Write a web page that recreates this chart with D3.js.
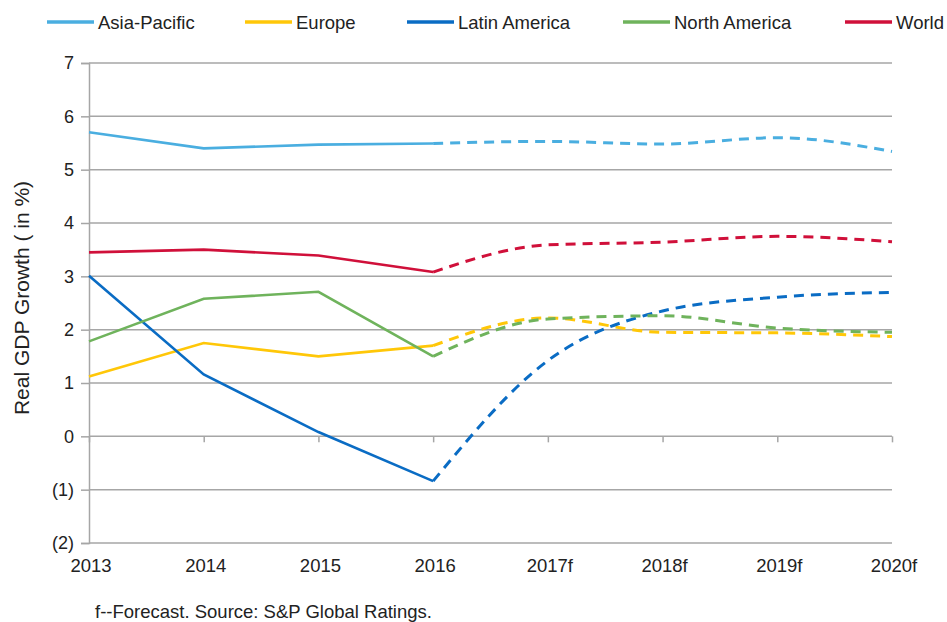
<!DOCTYPE html>
<html>
<head>
<meta charset="utf-8">
<script src="https://cdn.jsdelivr.net/npm/d3@7"></script>
<style>
  body { margin: 0; background: #fff; }
  svg text { font-family: "Liberation Sans", Arial, sans-serif; fill: #222; }
</style>
</head>
<body>
<svg id="chart"></svg>
<script>
const years = ['2013', '2014', '2015', '2016', '2017f', '2018f', '2019f', '2020f'];
const asiaPacific = [5.70, 5.40, 5.47, 5.49, 5.53, 5.48, 5.60, 5.34];
const europe = [1.12, 1.75, 1.50, 1.70, 2.22, 1.95, 1.94, 1.87];
const latinAmerica = [3.01, 1.16, 0.08, -0.84, 1.42, 2.35, 2.61, 2.70];
const northAmerica = [1.78, 2.58, 2.71, 1.50, 2.20, 2.26, 2.03, 1.95];
const world = [3.45, 3.50, 3.39, 3.08, 3.59, 3.64, 3.75, 3.65];
const yTicks = [-2, -1, 0, 1, 2, 3, 4, 5, 6, 7];
const lastActual = 3; // index of 2016, forecasts start after it

const series = [
    { name: 'Asia-Pacific', values: asiaPacific, color: '#4aaee0' },
    { name: 'Europe', values: europe, color: '#ffc708' },
    { name: 'Latin America', values: latinAmerica, color: '#0a6cc4' },
    { name: 'North America', values: northAmerica, color: '#6fb35c' },
    { name: 'World', values: world, color: '#d0103a' }
];

const W = 947, H = 622;
const m = { left: 89, right: 55, top: 63, bottom: 80 };
const font = '"Liberation Sans", Arial, sans-serif';

const svg = d3.select('#chart')
    .attr('width', W)
    .attr('height', H);

const x = d3.scalePoint()
    .domain(years)
    .range([m.left, W - m.right]);

const y = d3.scaleLinear()
    .domain([-2, 7])
    .range([H - m.bottom + 1, m.top]);

const fmt = v => v < 0 ? `(${-v})` : `${v}`;

// gridlines
svg.append('g')
    .selectAll('line')
    .data(yTicks)
    .join('line')
        .attr('x1', m.left)
        .attr('x2', W - m.right)
        .attr('y1', d => y(d))
        .attr('y2', d => y(d))
        .attr('stroke', '#a6a6a6')
        .attr('stroke-width', 1.5);

// y axis
const yAxis = d3.axisLeft(y)
    .tickValues(yTicks)
    .tickFormat(fmt)
    .tickSize(8)
    .tickPadding(7);

const gy = svg.append('g')
    .attr('transform', `translate(${m.left},0)`)
    .call(yAxis);
gy.select('.domain').attr('stroke', '#a6a6a6').attr('stroke-width', 1.5);
gy.selectAll('.tick line').attr('stroke', '#a6a6a6').attr('stroke-width', 1.5);
gy.selectAll('.tick text')
    .style('font-size', '18px')
    .style('font-family', font)
    .attr('fill', '#222');

// category axis crosses at zero, labels sit at the bottom
const gx = svg.append('g')
    .attr('transform', `translate(0,${y(0)})`)
    .call(d3.axisBottom(x).tickSize(6).tickFormat(''));
gx.select('.domain').remove();
gx.selectAll('.tick line').attr('stroke', '#a6a6a6').attr('stroke-width', 1.5);

svg.append('g')
    .selectAll('text')
    .data(years)
    .join('text')
        .attr('x', d => x(d) + 2)
        .attr('y', y(-2) + 29)
        .attr('text-anchor', 'middle')
        .style('font-size', '18.5px')
        .text(d => d);

// lines: solid for actuals, dashed + smoothed for forecasts
const solid = d3.line()
    .x((d, i) => x(years[i]))
    .y(d => y(d));

const dashed = d3.line()
    .x(d => x(years[d.i]))
    .y(d => y(d.v))
    .curve(d3.curveMonotoneX);

const lines = svg.append('g');
series.forEach(s => {
    lines.append('path')
        .attr('d', solid(s.values.slice(0, lastActual + 1)))
        .attr('fill', 'none')
        .attr('stroke', s.color)
        .attr('stroke-width', 2.6);
    const fc = s.values.map((v, i) => ({ v, i })).slice(lastActual);
    lines.append('path')
        .attr('d', dashed(fc))
        .attr('fill', 'none')
        .attr('stroke', s.color)
        .attr('stroke-width', 3)
        .attr('stroke-dasharray', '10,7');
});

// legend
const legendX = [47, 245, 407, 623, 845];
const legend = svg.append('g')
    .selectAll('g')
    .data(series)
    .join('g')
        .attr('transform', (d, i) => `translate(${legendX[i]},22)`);
legend.append('line')
    .attr('x1', 0)
    .attr('x2', 47)
    .attr('stroke', d => d.color)
    .attr('stroke-width', 3.5);
legend.append('text')
    .attr('x', 51)
    .attr('y', 6.5)
    .style('font-size', '18.5px')
    .text(d => d.name);

// y title
svg.append('text')
    .attr('transform', `translate(29,${(y(7) + y(-2)) / 2 - 5}) rotate(-90)`)
    .attr('text-anchor', 'middle')
    .style('font-size', '21px')
    .text('Real GDP Growth ( in %)');

// footnote
svg.append('text')
    .attr('x', 95)
    .attr('y', 618)
    .style('font-size', '18.5px')
    .text('f--Forecast. Source: S&P Global Ratings.');
</script>
</body>
</html>
